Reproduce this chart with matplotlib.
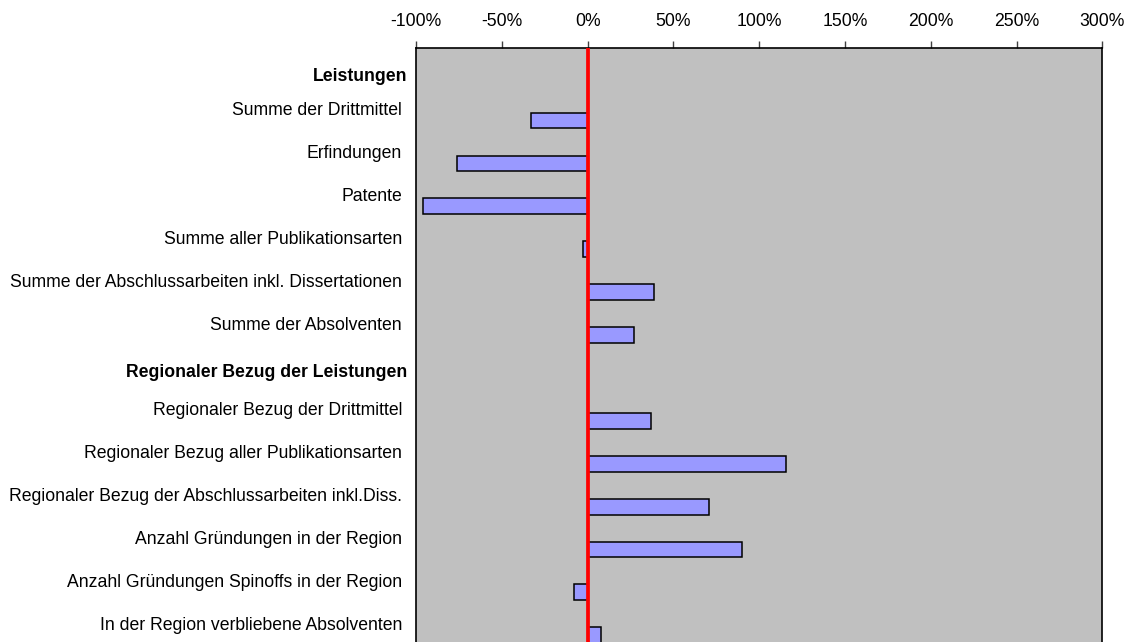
import numpy as np
import matplotlib
matplotlib.use("Agg")
import matplotlib.pyplot as plt
import matplotlib.transforms as mtransforms

# ======================================================
# DATA
# ======================================================

categories = [
    "Leistungen",
    "Summe der Drittmittel",
    "Erfindungen",
    "Patente",
    "Summe aller Publikationsarten",
    "Summe der Abschlussarbeiten inkl. Dissertationen",
    "Summe der Absolventen",
    "Regionaler Bezug der Leistungen",
    "Regionaler Bezug der Drittmittel",
    "Regionaler Bezug aller Publikationsarten",
    "Regionaler Bezug der Abschlussarbeiten inkl.Diss.",
    "Anzahl Gründungen in der Region",
    "Anzahl Gründungen Spinoffs in der Region",
    "In der Region verbliebene Absolventen",
]

# change in percent, headers have no value
values = [np.nan, -33, -76, -96, -2.5, 38.5, 27,
          np.nan, 37, 115.5, 70.5, 90, -8, 8]

headers = ["Leistungen", "Regionaler Bezug der Leistungen"]

xticks = [-100, -50, 0, 50, 100, 150, 200, 250, 300]

# ======================================================
# PLOT
# ======================================================

plt.rcParams["font.family"] = ["Liberation Sans", "DejaVu Sans"]

fig = plt.figure(figsize=(11.33, 6.42), dpi=100)
fig.patch.set_facecolor("white")
ax = fig.add_axes([416 / 1133, -0.023, 686.3 / 1133, 0.9475])
ax.set_facecolor("#C0C0C0")

ypos = np.arange(len(categories))
ax.barh(ypos, values, height=0.37, color="#9999FF",
        edgecolor="black", linewidth=1.1, zorder=2)
ax.axvline(0, color="#FF0000", linewidth=2.7, zorder=3)

ax.set_xlim(-100, 300)
ax.set_ylim(13.5, -0.68)

ax.xaxis.tick_top()
ax.set_xticks(xticks)
ax.set_xticklabels([f"{t}%" for t in xticks], fontsize=12.7)
ax.tick_params(axis="x", direction="out", length=5, width=1,
               pad=8, color="#404040")
ax.set_yticks([])

for side in ["left", "top", "right"]:
    ax.spines[side].set_color("black")
    ax.spines[side].set_linewidth(1.2)
ax.spines["bottom"].set_visible(False)

# category labels left of the axis
trans = mtransforms.blended_transform_factory(ax.transAxes, ax.transData)
for i, cat in enumerate(categories):
    if cat in headers:
        dy = -0.03 if i == 0 else -0.13
        ax.text(-9 / 686.3, i + dy, cat, transform=trans, ha="right",
                va="center", fontsize=12.7, fontweight="bold")
    else:
        ax.text(-14 / 686.3, i - 0.23, cat, transform=trans, ha="right",
                va="center", fontsize=12.7)

fig.savefig("out.png", dpi=100)
